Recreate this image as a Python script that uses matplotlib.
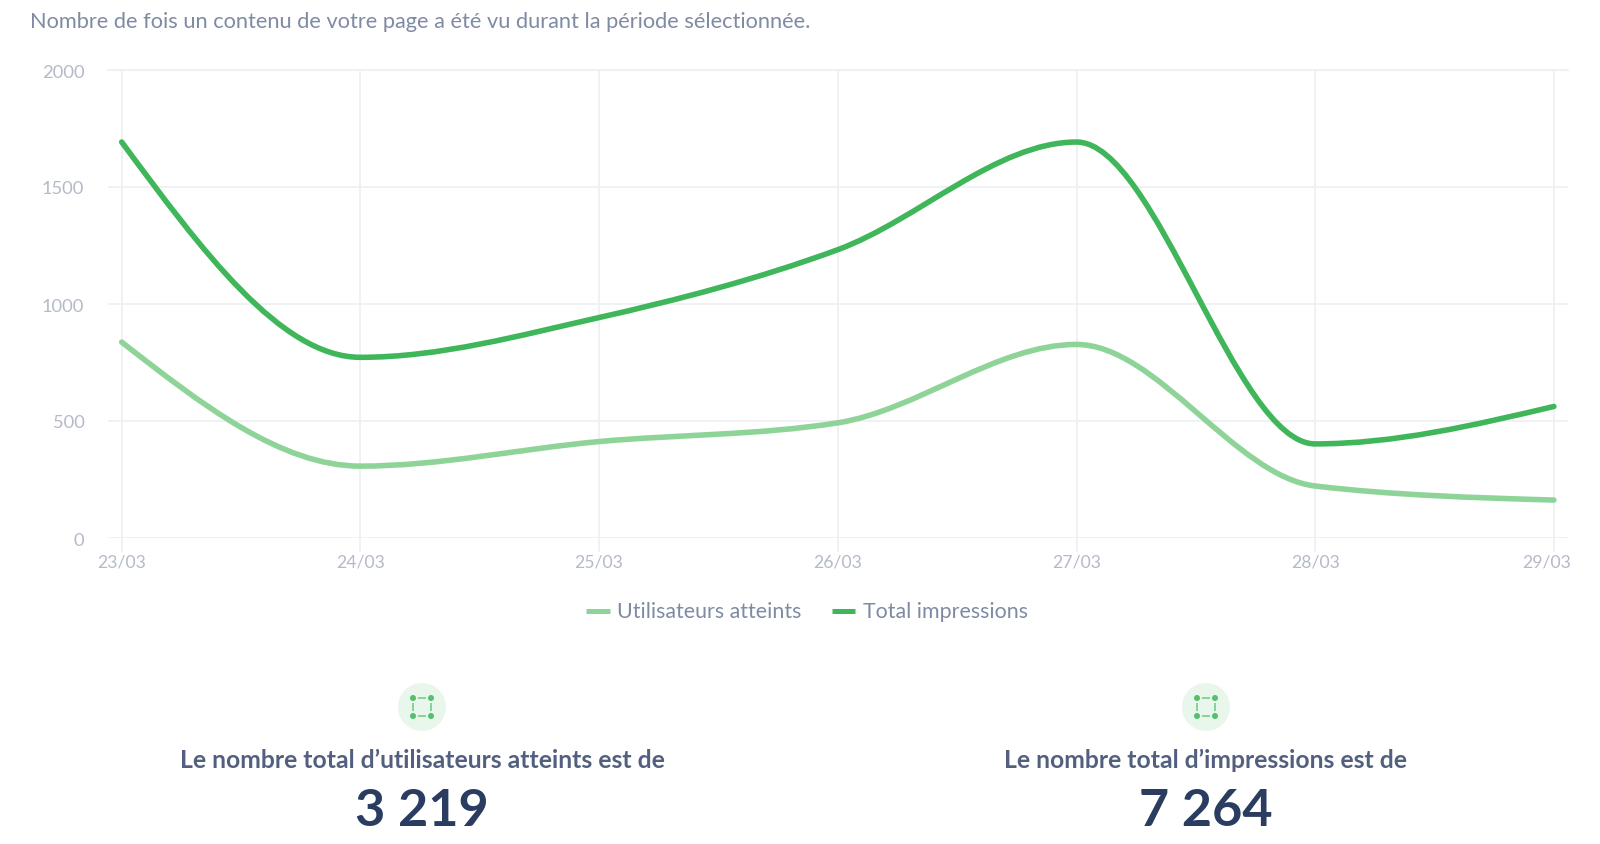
#!/usr/bin/env python3
"""Daily reach and impressions, with the two totals underneath."""

import numpy as np
import matplotlib
matplotlib.use("Agg")
import matplotlib.pyplot as plt
from matplotlib.path import Path
from matplotlib.patches import PathPatch, Circle
from matplotlib.transforms import ScaledTranslation

plt.rcParams['font.family'] = ['Lato', 'DejaVu Sans']

days = ['23/03', '24/03', '25/03', '26/03', '27/03', '28/03', '29/03']
users = [835, 305, 410, 490, 825, 220, 160]
impressions = [1690, 770, 940, 1230, 1690, 400, 560]
y_ticks = [0, 500, 1000, 1500, 2000]

users_label = 'Utilisateurs atteints'
impressions_label = 'Total impressions'
subtitle = 'Nombre de fois un contenu de votre page a été vu durant la période sélectionnée.'
totals = [
    ('Le nombre total d’utilisateurs atteints est de', '3 219'),
    ('Le nombre total d’impressions est de', '7 264'),
]

LIGHT = '#8ed499'
DARK = '#3fb65a'
GRID = '#eef0f4'
TICK_TEXT = '#b4bac8'
LEGEND_TEXT = '#7f8aa3'
LABEL_TEXT = '#525f7f'
NUMBER_TEXT = '#2a3d60'


def monotone_path(ys):
    """Smooth path through the points, tangents as in a monotone-x curve"""
    ys = np.asarray(ys, dtype=float)
    xs = np.arange(len(ys), dtype=float)
    slopes = np.diff(ys)
    tangents = np.zeros(len(ys))
    for i in range(1, len(ys) - 1):
        s0, s1 = slopes[i - 1], slopes[i]
        p = (s0 + s1) / 2
        tangents[i] = (np.sign(s0) + np.sign(s1)) * min(abs(s0), abs(s1), 0.5 * abs(p))
    tangents[0] = 1.5 * slopes[0] - 0.5 * tangents[1]
    tangents[-1] = 1.5 * slopes[-1] - 0.5 * tangents[-2]

    verts = [(xs[0], ys[0])]
    codes = [Path.MOVETO]
    for i in range(len(ys) - 1):
        verts.append((xs[i] + 1 / 3, ys[i] + tangents[i] / 3))
        verts.append((xs[i + 1] - 1 / 3, ys[i + 1] - tangents[i + 1] / 3))
        verts.append((xs[i + 1], ys[i + 1]))
        codes += [Path.CURVE4, Path.CURVE4, Path.CURVE4]
    return Path(verts, codes)


def draw_icon(ax, cx, cy):
    ax.add_patch(Circle((cx, cy), 24, color='#e9f6ec', lw=0))
    dx, dy = 9, 9
    for sx in (-1, 1):
        for sy in (-1, 1):
            ax.add_patch(Circle((cx + sx * dx, cy + sy * dy), 3, color='#55bf6e', lw=0))
    dash = dict(color='#7fd091', lw=1.3, solid_capstyle='butt')
    ax.plot([cx - 4, cx + 4], [cy - dy, cy - dy], **dash)
    ax.plot([cx - 4, cx + 4], [cy + dy, cy + dy], **dash)
    ax.plot([cx - dx, cx - dx], [cy - 4, cy + 4], **dash)
    ax.plot([cx + dx, cx + dx], [cy - 4, cy + 4], **dash)


fig = plt.figure(figsize=(16, 8.44), dpi=100)

# chart area, pixel positions
left, right, top, bottom = 108, 1568, 69.5, 537.5
ax = fig.add_axes([left / 1600, 1 - bottom / 844, (right - left) / 1600, (bottom - top) / 844])
step = 238.7
ax.set_xlim((left - 121.7) / step, (right - 121.7) / step)
ax.set_ylim(0, 2000)

ax.add_patch(PathPatch(monotone_path(users), fill=False, edgecolor=LIGHT, lw=4,
                       capstyle='round', joinstyle='round', zorder=3))
ax.add_patch(PathPatch(monotone_path(impressions), fill=False, edgecolor=DARK, lw=4,
                       capstyle='round', joinstyle='round', zorder=4))

ax.set_xticks(range(len(days)))
ax.set_xticklabels(days)
ax.set_yticks(y_ticks)
ax.grid(True, color=GRID, lw=1.3)
ax.set_axisbelow(True)
for name in ['left', 'right', 'bottom']:
    ax.spines[name].set_visible(False)
ax.spines['top'].set_color(GRID)
ax.spines['top'].set_linewidth(1.3)
ax.tick_params(axis='x', length=10, width=1.3, color=GRID, labelcolor=TICK_TEXT,
               labelsize=12.7, pad=2)
ax.tick_params(axis='y', length=0, labelcolor=TICK_TEXT, labelsize=13.2, pad=17)

# the last date is pushed back inside the chart, as in the reference
last = ax.get_xticklabels()[-1]
last.set_transform(last.get_transform() + ScaledTranslation(-0.07, 0, fig.dpi_scale_trans))
for lab in ax.get_yticklabels():
    lab.set_transform(lab.get_transform() + ScaledTranslation(0, -0.015, fig.dpi_scale_trans))

# overlay in reference pixels for everything outside the chart
over = fig.add_axes([0, 0, 1, 1], zorder=5)
over.set_xlim(0, 1600)
over.set_ylim(844, 0)
over.axis('off')

over.text(30, 22.5, subtitle, fontsize=15.7, color=LEGEND_TEXT, va='center', ha='left')

# legend
over.plot([586, 610], [610.5, 610.5], color=LIGHT, lw=3.6, solid_capstyle='butt')
over.text(617, 612, users_label, fontsize=15.4, color=LEGEND_TEXT, va='center', ha='left')
over.plot([832, 855], [610.5, 610.5], color=DARK, lw=3.6, solid_capstyle='butt')
over.text(863, 612, impressions_label, fontsize=15.4, color=LEGEND_TEXT, va='center', ha='left')

for cx, (label, number) in zip([422, 1206], totals):
    draw_icon(over, cx, 707)
    over.text(cx, 760, label, fontsize=17.8, fontweight='bold', color=LABEL_TEXT,
              va='center', ha='center')
    over.text(cx, 811, number, fontsize=37.5, fontweight='bold', color=NUMBER_TEXT,
              va='center', ha='center')

fig.savefig('out.png', dpi=100, facecolor='white')
